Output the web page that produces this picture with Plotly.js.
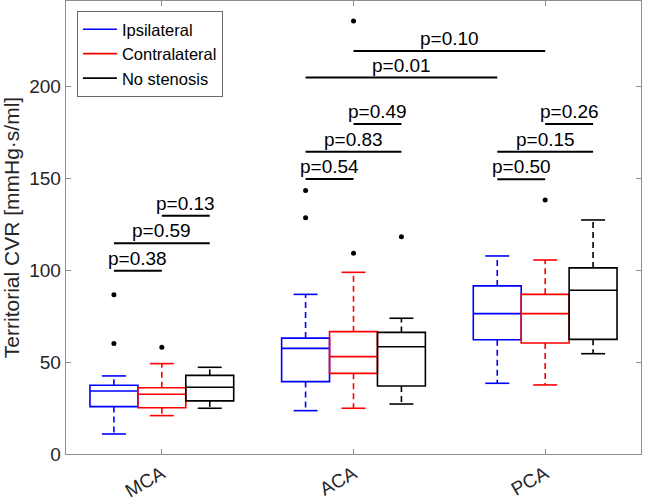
<!DOCTYPE html>
<html>
<head>
<meta charset="utf-8">
<script src="https://cdn.plot.ly/plotly-3.0.1.min.js"></script>
<style>html,body{margin:0;padding:0;background:#fff;}#chart{width:645px;height:502px;}</style>
</head>
<body>
<div id="chart"></div>
<script>
// ---------- data ----------
const territories = ['MCA', 'ACA', 'PCA'];
const seriesNames = ['Ipsilateral', 'Contralateral', 'No stenosis'];
const seriesColors = ['#0000ff', '#ff0000', '#000000'];

// Ipsilateral (MCA, ACA, PCA)
const ipsiLow  = [10.9, 23.6, 38.5];
const ipsiQ1   = [25.8, 39.4, 62.2];
const ipsiMed  = [34.3, 57.5, 76.4];
const ipsiQ3   = [37.4, 63.1, 91.5];
const ipsiHigh = [42.5, 86.9, 107.8];
const ipsiOut  = [[86.7, 60.2], [143.5, 128.6], []];

// Contralateral
const contraLow  = [20.9, 24.9, 37.6];
const contraQ1   = [25.2, 43.9, 60.4];
const contraMed  = [32.5, 53.0, 76.4];
const contraQ3   = [36.1, 66.6, 86.9];
const contraHigh = [49.2, 98.9, 105.6];
const contraOut  = [[58.1], [109.3, 235.7], [138.3]];

// No stenosis
const noStenLow  = [24.9, 27.2, 54.6];
const noStenQ1   = [28.9, 37.0, 62.4];
const noStenMed  = [36.3, 58.4, 89.1];
const noStenQ3   = [42.8, 66.2, 101.3];
const noStenHigh = [47.2, 73.9, 127.4];
const noStenOut  = [[], [118.3], []];

// p-value comparisons
const pLabels     = ['p=0.38', 'p=0.59', 'p=0.13', 'p=0.54', 'p=0.83', 'p=0.49', 'p=0.50', 'p=0.15', 'p=0.26', 'p=0.01', 'p=0.10'];
const pFromGroup  = [0, 0, 0, 1, 1, 1, 2, 2, 2, 1, 1];
const pFromSeries = [0, 0, 1, 0, 0, 1, 0, 0, 1, 0, 1];
const pToGroup    = [0, 0, 0, 1, 1, 1, 2, 2, 2, 2, 2];
const pToSeries   = [1, 2, 2, 1, 2, 2, 1, 2, 2, 0, 1];
const pLevel      = [99.8, 114.7, 129.7, 149.7, 164.6, 179.6, 149.5, 164.6, 179.6, 204.9, 219.4];

const yTicks = [0, 50, 100, 150, 200];

// ---------- build ----------
const stats = [
  {low: ipsiLow, q1: ipsiQ1, med: ipsiMed, q3: ipsiQ3, high: ipsiHigh, out: ipsiOut},
  {low: contraLow, q1: contraQ1, med: contraMed, q3: contraQ3, high: contraHigh, out: contraOut},
  {low: noStenLow, q1: noStenQ1, med: noStenMed, q3: noStenQ3, high: noStenHigh, out: noStenOut}
];
const boxW = 0.25;
const pos = (g, s) => (g + 1) + (s - 1) * boxW;

const traces = [];
const legendTraces = [];
stats.forEach((st, s) => {
  const xs = territories.map((_, g) => pos(g, s));
  const col = seriesColors[s];
  // boxes with median (no built-in whiskers)
  traces.push({
    type: 'box', x: xs, q1: st.q1, median: st.med, q3: st.q3,
    lowerfence: st.q1, upperfence: st.q3, width: boxW, whiskerwidth: 0,
    line: {color: col, width: 1.6}, fillcolor: 'rgba(0,0,0,0)',
    showlegend: false, hoverinfo: 'skip', boxpoints: false
  });
  // dashed whisker stems
  const wx = [], wy = [];
  territories.forEach((_, g) => {
    wx.push(xs[g], xs[g], null, xs[g], xs[g], null);
    wy.push(st.q3[g], st.high[g], null, st.q1[g], st.low[g], null);
  });
  traces.push({type: 'scatter', mode: 'lines', x: wx, y: wy, line: {color: col, width: 1.6, dash: '6px,4px'},
    showlegend: false, hoverinfo: 'skip', connectgaps: false});
  // whisker caps (also legend entry)
  const cx = [], cy = [];
  territories.forEach((_, g) => {
    cx.push(xs[g] - boxW / 4, xs[g] + boxW / 4, null, xs[g] - boxW / 4, xs[g] + boxW / 4, null);
    cy.push(st.high[g], st.high[g], null, st.low[g], st.low[g], null);
  });
  legendTraces.push({type: 'scatter', mode: 'lines', x: cx, y: cy, line: {color: col, width: 1.6},
    name: seriesNames[s], showlegend: true, hoverinfo: 'skip', connectgaps: false});
});
// outliers
const ox = [], oy = [];
stats.forEach((st, s) => {
  st.out.forEach((arr, g) => arr.forEach(v => { ox.push(pos(g, s)); oy.push(v); }));
});
traces.push({type: 'scatter', mode: 'markers', x: ox, y: oy, marker: {color: '#000', size: 5},
  showlegend: false, hoverinfo: 'skip'});

// significance bars
const bx = [], by = [];
const annotations = [];
pLabels.forEach((lab, i) => {
  const x0 = pos(pFromGroup[i], pFromSeries[i]);
  const x1 = pos(pToGroup[i], pToSeries[i]);
  bx.push(x0, x1, null);
  by.push(pLevel[i], pLevel[i], null);
  annotations.push({x: (x0 + x1) / 2, y: pLevel[i], xref: 'x', yref: 'y', text: lab, showarrow: false,
    yanchor: 'bottom', yshift: 0, font: {family: 'Liberation Sans, Arial, sans-serif', size: 19, color: '#000'}});
});
traces.push({type: 'scatter', mode: 'lines', x: bx, y: by, line: {color: '#000', width: 2},
  showlegend: false, hoverinfo: 'skip', connectgaps: false});

const axisCol = '#8f8f8f';
const layout = {
  width: 645, height: 502,
  margin: {l: 66, r: 4, t: 1, b: 48},
  paper_bgcolor: '#fff', plot_bgcolor: '#fff',
  font: {family: 'Liberation Sans, Arial, sans-serif', size: 19, color: '#262626'},
  showlegend: true,
  legend: {x: 0.019, y: 0.978, xanchor: 'left', yanchor: 'top', bgcolor: '#fff',
    bordercolor: '#6a6a6a', borderwidth: 1, font: {size: 16.5, color: '#000'}, tracegroupgap: 0,
    itemwidth: 34},
  xaxis: {
    range: [0.5, 3.5], tickmode: 'array', tickvals: [1, 2, 3], ticktext: territories,
    tickangle: -30, ticks: 'inside', ticklen: 5, tickcolor: axisCol, showgrid: false, zeroline: false,
    showline: true, linecolor: axisCol, linewidth: 1.3, mirror: 'allticks',
    tickfont: {size: 19, color: '#262626'}
  },
  yaxis: {
    range: [0, 246.6], tickmode: 'array', tickvals: yTicks, ticks: 'inside', ticklen: 5, tickcolor: axisCol,
    showgrid: false, zeroline: false, showline: true, linecolor: axisCol, linewidth: 1.3, mirror: 'allticks',
    tickfont: {size: 19, color: '#262626'},
    title: {text: 'Territorial CVR [mmHg·s/ml]', font: {size: 21, color: '#262626'}, standoff: 6}
  },
  annotations: annotations
};

Plotly.newPlot('chart', traces.concat(legendTraces), layout, {staticPlot: true, displayModeBar: false});
</script>
</body>
</html>
